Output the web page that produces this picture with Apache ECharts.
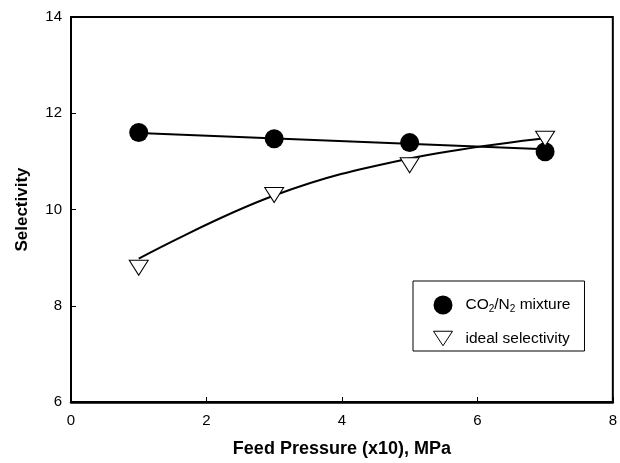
<!DOCTYPE html>
<html><head><meta charset="utf-8">
<script src="https://cdn.jsdelivr.net/npm/echarts@6/dist/echarts.min.js"></script>
<style>html,body{margin:0;background:#fff}#c{width:620px;height:463px}</style>
</head><body><div id="c"></div>
<script>
// Data
const pressure = [1, 3, 5, 7];
const mixtureSel = [11.60, 11.47, 11.39, 11.20];
const idealSel = [8.79, 10.30, 10.92, 11.47];
// fitted trend lines as drawn in the reference
const mixtureFitX = [1, 7];
const mixtureFitY = [11.59, 11.25];
const idealFitX = [1, 3, 5, 7];
const idealFitY = [8.98, 10.29, 11.06, 11.48];
const seriesNames = ['CO2/N2 mixture', 'ideal selectivity'];

const zip = (xs, ys) => xs.map((x, i) => [x, ys[i]]);
const font = 'Liberation Sans, Arial, Helvetica, sans-serif';

const chart = echarts.init(document.getElementById('c'), null, {renderer: 'canvas'});
chart.setOption({
  animation: false,
  backgroundColor: '#fff',
  grid: {left: 71, right: 5, top: 17, bottom: 59, show: true, borderColor: '#000', borderWidth: 2},
  xAxis: {
    type: 'value', min: 0, max: 8, interval: 2,
    name: 'Feed Pressure (x10), MPa', nameLocation: 'middle', nameGap: 38,
    nameTextStyle: {fontFamily: font, fontWeight: 'bold', fontSize: 18, color: '#000'},
    axisLine: {lineStyle: {color: '#000', width: 2.5}},
    axisTick: {inside: true, length: 5, lineStyle: {color: '#000'}},
    axisLabel: {margin: 11, fontFamily: font, fontSize: 15, color: '#000'},
    splitLine: {show: false}
  },
  yAxis: {
    type: 'value', min: 6, max: 14, interval: 2,
    name: 'Selectivity', nameLocation: 'middle', nameGap: 40,
    nameTextStyle: {fontFamily: font, fontWeight: 'bold', fontSize: 17, color: '#000'},
    axisLine: {show: true, lineStyle: {color: '#000', width: 2}},
    axisTick: {show: true, inside: true, length: 5, lineStyle: {color: '#000'}},
    axisLabel: {margin: 9, fontFamily: font, fontSize: 15, color: '#000'},
    splitLine: {show: false}
  },
  legend: {
    orient: 'vertical', left: 413, top: 281,
    padding: [14.5, 14, 4.5, 20], itemGap: 16, itemWidth: 19, itemHeight: 19,
    borderColor: '#000', borderWidth: 1, backgroundColor: '#fff',
    data: [
      {name: seriesNames[0], icon: 'circle', itemStyle: {color: '#000', opacity: 1, borderWidth: 0}},
      {name: seriesNames[1], icon: 'path://M0,0 L17,0 L8.5,13 Z',
       itemStyle: {color: '#fff', borderColor: '#000', borderWidth: 1, opacity: 1}}
    ],
    formatter: n => n === seriesNames[0]
      ? '{g|}{t|CO}{s|2}{t|/N}{s|2}{t| mixture}'
      : '{g|}{t|ideal selectivity}',
    textStyle: {
      rich: {
        g: {width: 8},
        t: {fontFamily: font, fontSize: 15.5, color: '#000', lineHeight: 19},
        s: {fontFamily: font, fontSize: 10, color: '#000', lineHeight: 12, verticalAlign: 'bottom'}
      }
    }
  },
  series: [
    {
      name: 'mixtureFit', type: 'line', data: zip(mixtureFitX, mixtureFitY),
      showSymbol: false, symbol: 'none', lineStyle: {color: '#000', width: 2}, z: 1
    },
    {
      name: 'idealFit', type: 'line', data: zip(idealFitX, idealFitY), smooth: 0.4,
      showSymbol: false, symbol: 'none', lineStyle: {color: '#000', width: 2}, z: 1
    },
    {
      name: seriesNames[0], type: 'scatter', data: zip(pressure, mixtureSel),
      symbol: 'circle', symbolSize: 19, itemStyle: {color: '#000', opacity: 1}, z: 3
    },
    {
      name: seriesNames[1], type: 'scatter', data: zip(pressure, idealSel),
      symbol: 'triangle', symbolRotate: 180, symbolSize: [19, 15],
      itemStyle: {color: '#fff', borderColor: '#000', borderWidth: 1, opacity: 1}, z: 3
    }
  ]
});
</script></body></html>
